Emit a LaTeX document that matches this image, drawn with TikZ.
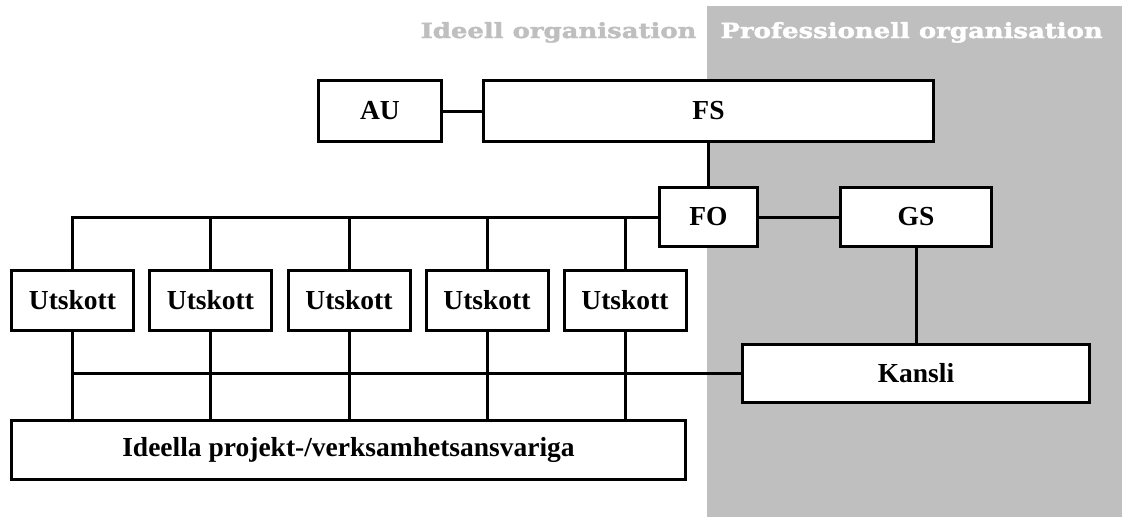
\documentclass[tikz,border=0pt]{standalone}
\usepackage{fontspec}
\setmainfont{Liberation Serif}
\newfontfamily\headfont[FakeStretch=1.24,FakeBold=2]{DejaVu Serif Bold}
\usetikzlibrary{calc}
\definecolor{panelgray}{RGB}{191,191,191}

\begin{document}
\begin{tikzpicture}[x=1pt,y=-1pt,line width=3pt]
\tikzstyle{box} = [draw, fill=white, inner sep=0pt, font=\fontsize{27.5}{30}\selectfont\bfseries]
\tikzstyle{head} = [inner sep=0pt, font=\headfont\fontsize{20.9}{24}\selectfont]
\tikzstyle{utsk} = [box, minimum width=122pt, minimum height=60pt]
\useasboundingbox (0,0) rectangle (1122,517);
\fill[panelgray] (707,6) rectangle (1122,517);
\node[head, panelgray, anchor=base east] (ideell) at (698,38) {Ideell organisation};
\node[head, white, anchor=base west] (prof) at (719,38) {Professionell organisation};

\node[box, minimum width=123pt, minimum height=61pt] (AU) at (380,111) {AU};
\node[box, minimum width=450pt, minimum height=61pt] (FS) at (708.5,111) {FS};
\node[box, minimum width=98pt, minimum height=59pt] (FO) at (708.5,217) {FO};
\node[box, minimum width=151pt, minimum height=59pt] (GS) at (916,217) {GS};
\node[utsk] (U1) at (72.5,300.5) {Utskott};
\node[utsk] (U2) at (210.5,300.5) {Utskott};
\node[utsk] (U3) at (349,300.5) {Utskott};
\node[utsk] (U4) at (487,300.5) {Utskott};
\node[utsk] (U5) at (625,300.5) {Utskott};
\node[box, minimum width=347pt, minimum height=58pt] (K) at (916,373.5) {Kansli};
\node[box, minimum width=674pt, minimum height=59pt] (I) at (348.5,450) {Ideella projekt-/verksamhetsansvariga};

\draw (AU) -- (FS);
\draw (FS) -- (FO);
\draw (FO) -- (GS);
\draw (GS) -- (K);
\draw (FO.west) -| (U1.north);
\draw (U2.north) |- (FO.west);
\draw (U3.north) |- (FO.west);
\draw (U4.north) |- (FO.west);
\draw (U5.north) |- (FO.west);
\draw (U1.south) |- (K.west);
\draw (U2.south) |- (K.west);
\draw (U3.south) |- (K.west);
\draw (U4.south) |- (K.west);
\draw (U5.south) |- (K.west);
\draw (U1.south) -- (U1.south |- I.north);
\draw (U2.south) -- (U2.south |- I.north);
\draw (U3.south) -- (U3.south |- I.north);
\draw (U4.south) -- (U4.south |- I.north);
\draw (U5.south) -- (U5.south |- I.north);
\end{tikzpicture}
\end{document}
